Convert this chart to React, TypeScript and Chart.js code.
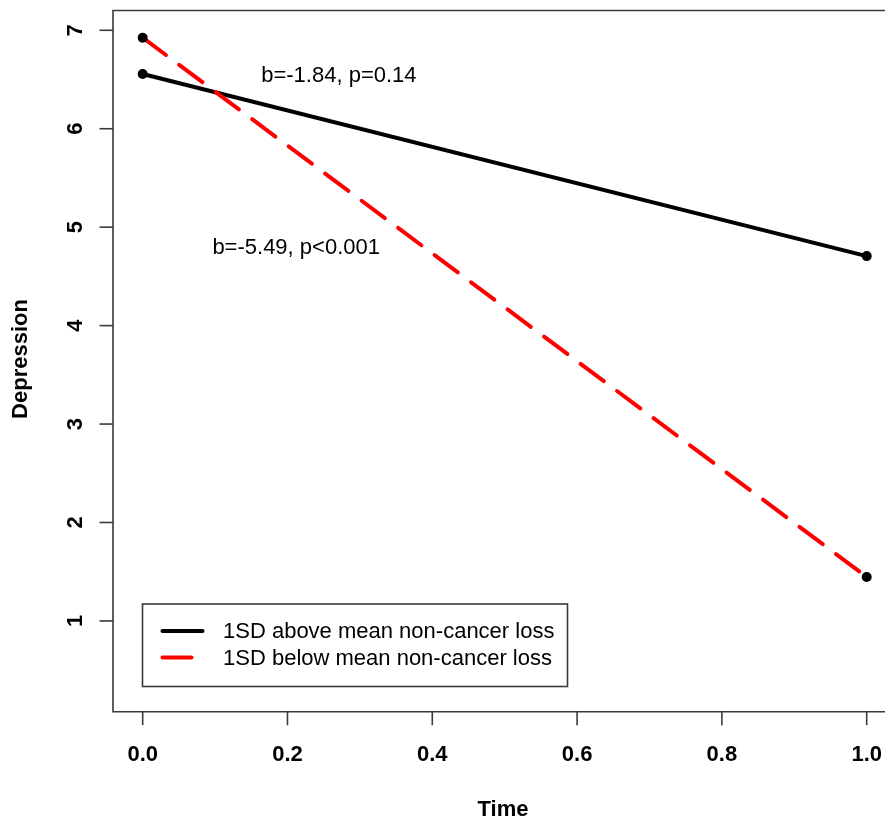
import React, { useEffect, useRef } from "react";
import { Chart, registerables } from "chart.js";

Chart.register(...registerables);

const timePoints = [0, 1];
const aboveMean = [6.556, 4.706];
const belowMean = [6.925, 1.447];
const seriesLabels = [
  "1SD above mean non-cancer loss",
  "1SD below mean non-cancer loss",
];
const xTicks = [0, 0.2, 0.4, 0.6, 0.8, 1.0];
const xTickLabels = ["0.0", "0.2", "0.4", "0.6", "0.8", "1.0"];
const yTicks = [1, 2, 3, 4, 5, 6, 7];
const yTickLabels = ["1", "2", "3", "4", "5", "6", "7"];
const annotationTexts = ["b=-1.84, p=0.14", "b=-5.49, p<0.001"];
const annotationX = [0.271, 0.212];
const annotationY = [6.536, 4.786];

const FONT = "'Liberation Sans', Arial, sans-serif";
const AXIS_COLOR = "#3a3a3a";

const decorPlugin = {
  id: "rdecor",
  beforeDatasetsDraw(chart: any) {
    const ctx = chart.ctx;
    const xs = chart.scales.x;
    const ys = chart.scales.y;
    const ca = chart.chartArea;
    ctx.save();
    ctx.strokeStyle = AXIS_COLOR;
    ctx.lineWidth = 1.6;
    // box (right side falls outside the canvas)
    ctx.beginPath();
    ctx.moveTo(ca.right + 20, ca.top);
    ctx.lineTo(ca.left, ca.top);
    ctx.lineTo(ca.left, ca.bottom);
    ctx.lineTo(ca.right + 20, ca.bottom);
    ctx.stroke();
    // x ticks
    ctx.fillStyle = "#000";
    ctx.font = `bold 22px ${FONT}`;
    ctx.textAlign = "center";
    ctx.textBaseline = "alphabetic";
    xTicks.forEach((v, i) => {
      const px = xs.getPixelForValue(v);
      ctx.beginPath();
      ctx.moveTo(px, ca.bottom);
      ctx.lineTo(px, ca.bottom + 13.5);
      ctx.stroke();
      ctx.fillText(xTickLabels[i], px, 761);
    });
    // y ticks
    yTicks.forEach((v, i) => {
      const py = ys.getPixelForValue(v);
      ctx.beginPath();
      ctx.moveTo(ca.left, py);
      ctx.lineTo(ca.left - 13.5, py);
      ctx.stroke();
      ctx.save();
      ctx.translate(81.5, py);
      ctx.rotate(-Math.PI / 2);
      ctx.textAlign = "center";
      ctx.textBaseline = "alphabetic";
      ctx.fillText(yTickLabels[i], 0, 0);
      ctx.restore();
    });
    // axis titles
    ctx.fillText("Time", 503, 816);
    ctx.save();
    ctx.translate(27, 359);
    ctx.rotate(-Math.PI / 2);
    ctx.textAlign = "center";
    ctx.fillText("Depression", 0, 0);
    ctx.restore();
    ctx.restore();
  },
  afterDatasetsDraw(chart: any) {
    const ctx = chart.ctx;
    const xs = chart.scales.x;
    const ys = chart.scales.y;
    ctx.save();
    ctx.fillStyle = "#000";
    ctx.font = `22px ${FONT}`;
    ctx.textAlign = "center";
    ctx.textBaseline = "middle";
    annotationTexts.forEach((t, i) => {
      ctx.fillText(t, xs.getPixelForValue(annotationX[i]), ys.getPixelForValue(annotationY[i]));
    });
    // legend
    const bx = 142.5, by = 604, bw = 425, bh = 82.5;
    ctx.fillStyle = "#fff";
    ctx.fillRect(bx, by, bw, bh);
    ctx.strokeStyle = AXIS_COLOR;
    ctx.lineWidth = 1.6;
    ctx.strokeRect(bx, by, bw, bh);
    const rows = [631, 657.5];
    const lineEnds = [202.5, 191.5];
    chart.data.datasets.forEach((ds: any, i: number) => {
      const y = rows[i];
      ctx.save();
      ctx.strokeStyle = ds.borderColor;
      ctx.lineWidth = ds.borderWidth;
      ctx.lineCap = "round";
      ctx.beginPath();
      ctx.moveTo(162.5, y);
      ctx.lineTo(lineEnds[i], y);
      ctx.stroke();
      ctx.restore();
      ctx.fillStyle = "#000";
      ctx.textAlign = "left";
      ctx.textBaseline = "middle";
      ctx.fillText(ds.label, 223, y + 1);
    });
    ctx.restore();
  },
};

export default function App() {
  const ref = useRef<HTMLCanvasElement>(null);
  useEffect(() => {
    if (!ref.current) return;
    const chart = new Chart(ref.current, {
      type: "line",
      data: {
        datasets: [
          {
            label: seriesLabels[0],
            data: timePoints.map((t, i) => ({ x: t, y: aboveMean[i] })),
            borderColor: "#000000",
            borderWidth: 4,
            pointRadius: 5,
            pointBackgroundColor: "#000",
            pointBorderWidth: 0,
            order: 1,
          },
          {
            label: seriesLabels[1],
            data: timePoints.map((t, i) => ({ x: t, y: belowMean[i] })),
            borderColor: "#ff0000",
            borderWidth: 4,
            borderDash: [29, 16.5],
            borderCapStyle: "round",
            pointRadius: 5,
            pointBackgroundColor: "#000",
            pointBorderWidth: 0,
            order: 0,
          },
        ],
      },
      options: {
        responsive: false,
        animation: false,
        layout: { autoPadding: false, padding: { left: 113, top: 10.5, right: 0, bottom: 106.3 } },
        plugins: { legend: { display: false }, tooltip: { enabled: false } },
        scales: {
          x: { type: "linear", min: -0.041, max: 1.0253, display: false },
          y: { type: "linear", min: 0.078, max: 7.201, display: false },
        },
      },
      plugins: [decorPlugin],
    });
    return () => chart.destroy();
  }, []);
  return (
    <div style={{ position: "fixed", left: 0, top: 0, width: 885, height: 818, background: "#fff" }}>
      <canvas ref={ref} width={885} height={818} />
    </div>
  );
}
